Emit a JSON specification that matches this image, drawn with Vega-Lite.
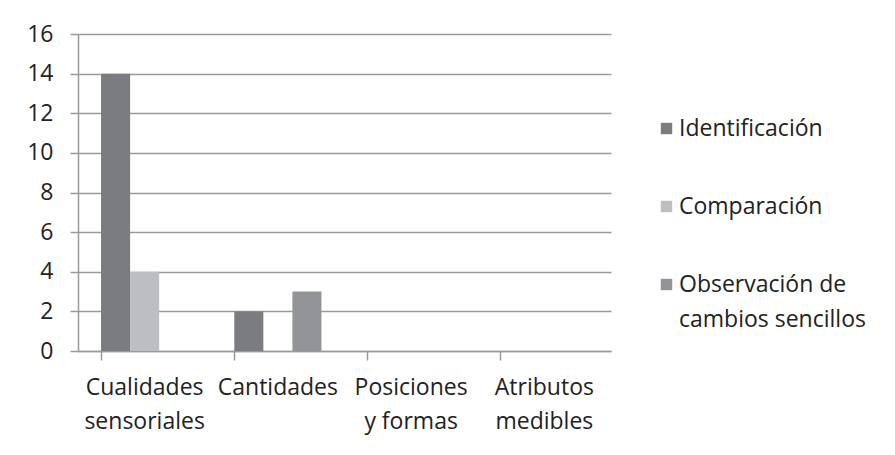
{
  "$schema": "https://vega.github.io/schema/vega-lite/v6.json",
  "autosize": "none",
  "width": 533,
  "height": 317,
  "padding": {"left": 78, "top": 34, "right": 284, "bottom": 104},
  "background": "white",
  "config": {
    "view": {"stroke": null},
    "font": "Open Sans",
    "axis": {"labelFont": "Open Sans", "labelColor": "#222222"},
    "legend": {"labelFont": "Open Sans", "labelColor": "#222222"}
  },
  "data": {
    "values": [
      {"categoria": "Cualidades sensoriales", "serie": "Identificación", "valor": 14},
      {"categoria": "Cualidades sensoriales", "serie": "Comparación", "valor": 4},
      {"categoria": "Cualidades sensoriales", "serie": "Observación de cambios sencillos", "valor": 0},
      {"categoria": "Cantidades", "serie": "Identificación", "valor": 2},
      {"categoria": "Cantidades", "serie": "Comparación", "valor": 0},
      {"categoria": "Cantidades", "serie": "Observación de cambios sencillos", "valor": 3},
      {"categoria": "Posiciones y formas", "serie": "Identificación", "valor": 0},
      {"categoria": "Posiciones y formas", "serie": "Comparación", "valor": 0},
      {"categoria": "Posiciones y formas", "serie": "Observación de cambios sencillos", "valor": 0},
      {"categoria": "Atributos medibles", "serie": "Identificación", "valor": 0},
      {"categoria": "Atributos medibles", "serie": "Comparación", "valor": 0},
      {"categoria": "Atributos medibles", "serie": "Observación de cambios sencillos", "valor": 0}
    ]
  },
  "mark": {"type": "bar"},
  "encoding": {
    "x": {
      "field": "categoria",
      "type": "nominal",
      "sort": ["Cualidades sensoriales", "Cantidades", "Posiciones y formas", "Atributos medibles"],
      "scale": {"paddingInner": 0.346, "paddingOuter": 0.173},
      "axis": {
        "title": null,
        "labelAngle": 0,
        "bandPosition": 0,
        "labelFontSize": 23,
        "labelLineHeight": 34,
        "labelPadding": 16,
        "labelBaseline": "top",
        "labelLimit": 200,
        "domainColor": "#9a9a9a",
        "domainWidth": 1.5,
        "tickColor": "#9a9a9a",
        "tickWidth": 1.5,
        "tickSize": 9,
        "labelExpr": "datum.label == 'Posiciones y formas' ? ['Posiciones', 'y formas'] : split(datum.label, ' ')"
      }
    },
    "xOffset": {
      "field": "serie",
      "type": "nominal",
      "sort": ["Identificación", "Comparación", "Observación de cambios sencillos"],
      "scale": {"paddingInner": 0, "paddingOuter": 0}
    },
    "y": {
      "field": "valor",
      "type": "quantitative",
      "scale": {"domain": [0, 16], "nice": false},
      "axis": {
        "title": null,
        "values": [0, 2, 4, 6, 8, 10, 12, 14, 16],
        "labelFontSize": 23,
        "labelPadding": 17,
        "domainColor": "#9a9a9a",
        "domainWidth": 1.5,
        "tickColor": "#9a9a9a",
        "tickWidth": 1.5,
        "tickSize": 8,
        "gridColor": "#9a9a9a",
        "gridWidth": 1.5
      }
    },
    "color": {
      "field": "serie",
      "type": "nominal",
      "sort": ["Identificación", "Comparación", "Observación de cambios sencillos"],
      "scale": {
        "domain": ["Identificación", "Comparación", "Observación de cambios sencillos"],
        "range": ["#7b7c80", "#bdbec1", "#939498"]
      },
      "legend": {
        "title": null,
        "orient": "none",
        "legendX": 577,
        "legendY": 83,
        "symbolType": "square",
        "symbolSize": 130,
        "symbolStrokeWidth": 0,
        "labelFontSize": 23,
        "labelOffset": 1,
        "labelLimit": 300,
        "rowPadding": 54,
        "labelExpr": "datum.label == 'Observación de cambios sencillos' ? ['Observación de', 'cambios sencillos'] : datum.label",
        "encode": {"labels": {"update": {"lineHeight": {"value": 35}}}}
      }
    }
  }
}
